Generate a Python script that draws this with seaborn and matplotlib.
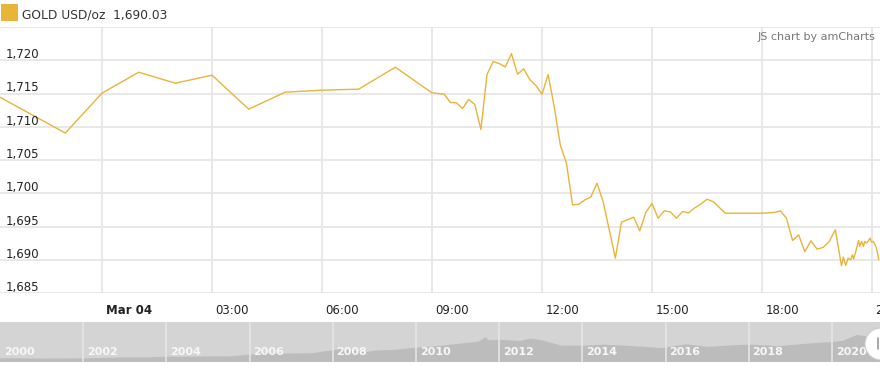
import matplotlib
matplotlib.use("Agg")
import matplotlib.pyplot as plt
import matplotlib.transforms as mtransforms
from matplotlib.patches import Rectangle, Ellipse
import seaborn as sns
import pandas as pd
import numpy as np

# ---------------- data ----------------
times = [
    "2021-03-03 21:00", "2021-03-03 23:00",
    "2021-03-04 00:00", "2021-03-04 01:00", "2021-03-04 02:00", "2021-03-04 03:00",
    "2021-03-04 04:00", "2021-03-04 05:00", "2021-03-04 06:00", "2021-03-04 07:00",
    "2021-03-04 08:00", "2021-03-04 09:00", "2021-03-04 09:20", "2021-03-04 09:30",
    "2021-03-04 09:40", "2021-03-04 09:50", "2021-03-04 10:00", "2021-03-04 10:10",
    "2021-03-04 10:20", "2021-03-04 10:30", "2021-03-04 10:40", "2021-03-04 10:50",
    "2021-03-04 11:00", "2021-03-04 11:10", "2021-03-04 11:20", "2021-03-04 11:30",
    "2021-03-04 11:40", "2021-03-04 11:50", "2021-03-04 12:00", "2021-03-04 12:10",
    "2021-03-04 12:20", "2021-03-04 12:30", "2021-03-04 12:40", "2021-03-04 12:50",
    "2021-03-04 13:00", "2021-03-04 13:10", "2021-03-04 13:20", "2021-03-04 13:30",
    "2021-03-04 13:40", "2021-03-04 14:00", "2021-03-04 14:10", "2021-03-04 14:30",
    "2021-03-04 14:40", "2021-03-04 14:50", "2021-03-04 15:00", "2021-03-04 15:10",
    "2021-03-04 15:20", "2021-03-04 15:30", "2021-03-04 15:40", "2021-03-04 15:50",
    "2021-03-04 16:00", "2021-03-04 16:10", "2021-03-04 16:20", "2021-03-04 16:30",
    "2021-03-04 16:40", "2021-03-04 17:00", "2021-03-04 18:00", "2021-03-04 18:20",
    "2021-03-04 18:30", "2021-03-04 18:40", "2021-03-04 18:50", "2021-03-04 19:00",
    "2021-03-04 19:10", "2021-03-04 19:20", "2021-03-04 19:30", "2021-03-04 19:40",
    "2021-03-04 19:50", "2021-03-04 20:00", "2021-03-04 20:10", "2021-03-04 20:13",
    "2021-03-04 20:17", "2021-03-04 20:21", "2021-03-04 20:25", "2021-03-04 20:28",
    "2021-03-04 20:30", "2021-03-04 20:33", "2021-03-04 20:38", "2021-03-04 20:40",
    "2021-03-04 20:43", "2021-03-04 20:46", "2021-03-04 20:48", "2021-03-04 20:51",
    "2021-03-04 20:54", "2021-03-04 20:57", "2021-03-04 20:59", "2021-03-04 21:02",
    "2021-03-04 21:05", "2021-03-04 21:08", "2021-03-04 21:11",
]
prices = [
    1715.10, 1709.05,
    1715.05, 1718.20, 1716.55, 1717.75,
    1712.65, 1715.20, 1715.50, 1715.65,
    1718.95, 1715.10, 1714.90, 1713.65,
    1713.60, 1712.75, 1714.10, 1713.35,
    1709.60, 1717.85, 1719.80, 1719.50,
    1719.00, 1721.00, 1717.90, 1718.70,
    1717.10, 1716.20, 1714.90, 1717.85,
    1713.00, 1707.25, 1704.50, 1698.25,
    1698.35, 1699.00, 1699.45, 1701.50,
    1698.75, 1690.25, 1695.65, 1696.40,
    1694.35, 1697.15, 1698.45, 1696.25,
    1697.35, 1697.20, 1696.25, 1697.25,
    1697.05, 1697.80, 1698.40, 1699.10,
    1698.75, 1697.00, 1697.00, 1697.10,
    1697.35, 1696.25, 1692.90, 1693.75,
    1691.20, 1692.85, 1691.60, 1691.85,
    1692.75, 1694.50, 1689.10, 1690.40,
    1689.15, 1690.25, 1690.00, 1690.75,
    1690.10, 1691.10, 1692.90, 1692.00,
    1692.75, 1692.00, 1692.75, 1692.50,
    1692.85, 1693.25, 1692.65, 1692.75,
    1692.25, 1691.50, 1690.03,
]
series_name = "GOLD USD/oz"
last_value = "1,690.03"

x_tick_hours = [0, 3, 6, 9, 12, 15, 18, 21]
x_tick_labels = ["Mar 04", "03:00", "06:00", "09:00", "12:00", "15:00", "18:00", "21:00"]
y_ticks = [1685, 1690, 1695, 1700, 1705, 1710, 1715, 1720, 1725]
y_tick_labels = ["1,685", "1,690", "1,695", "1,700", "1,705", "1,710", "1,715", "1,720", ""]

# long-history silhouette for the scrollbar (approximate gold price)
hist_years = [2000.0, 2000.5, 2001.0, 2001.5, 2002.0, 2002.5, 2003.0, 2003.5, 2004.0,
              2004.5, 2005.0, 2005.5, 2006.0, 2006.4, 2006.5, 2007.0, 2007.5, 2008.0,
              2008.2, 2008.8, 2009.0, 2009.5, 2010.0, 2010.5, 2011.0, 2011.5, 2011.67,
              2011.75, 2012.0, 2012.5, 2012.75, 2013.0, 2013.5, 2014.0, 2014.5, 2015.0,
              2015.5, 2015.9, 2016.0, 2016.5, 2017.0, 2017.5, 2018.0, 2018.5, 2018.7,
              2019.0, 2019.5, 2020.0, 2020.25, 2020.6, 2021.0, 2021.17]
hist_prices = [285, 280, 265, 270, 280, 315, 350, 350, 410,
               400, 425, 430, 550, 700, 630, 650, 670, 900,
               980, 750, 870, 930, 1100, 1200, 1380, 1550, 1890,
               1650, 1700, 1600, 1780, 1680, 1250, 1240, 1320, 1250,
               1150, 1060, 1100, 1350, 1150, 1250, 1330, 1250, 1190,
               1290, 1420, 1530, 1600, 2060, 1870, 1700]
scroll_years = [2000, 2002, 2004, 2006, 2008, 2010, 2012, 2014, 2016, 2018, 2020]

# ---------------- style ----------------
sns.set_theme(style="white")
plt.rcParams["font.family"] = ["DejaVu Sans"]

W, H = 880, 369
fig = plt.figure(figsize=(W / 100, H / 100), dpi=100)

def fx(px):
    return px / W

def fy(py):
    return 1 - py / H

GOLD = "#E8B43A"
GRID = "#e6e6e6"

df = pd.DataFrame({"time": pd.to_datetime(times), "price": prices})
origin = pd.Timestamp("2021-03-04 00:00")
df["hours"] = (df["time"] - origin).dt.total_seconds() / 3600.0

# main axes: plot area y 27..293 px, x 0..880 px
ax = fig.add_axes([0, fy(293), 1, (293 - 27) / H])
sns.lineplot(data=df, x="hours", y="price", ax=ax, color=GOLD, linewidth=1.0)
ax.set_xlim(-102 / 36.667, 778 / 36.667)
ax.set_ylim(1685, 1725)
for s in ax.spines.values():
    s.set_visible(False)
ax.set_xlabel("")
ax.set_ylabel("")

for yv in y_ticks:
    ax.axhline(yv, color=GRID, lw=1.3, zorder=0)
for xv in x_tick_hours:
    ax.axvline(xv, color=GRID, lw=1.3, zorder=0)

ax.set_yticks([])
ytrans = mtransforms.offset_copy(ax.get_yaxis_transform(), fig=fig, x=6, y=2, units="dots")
for yv, lab in zip(y_ticks, y_tick_labels):
    if lab:
        ax.text(0, yv, lab, transform=ytrans, ha="left", va="baseline",
                fontsize=8.5, color="#222222")

ax.set_xticks(x_tick_hours)
ax.set_xticklabels(x_tick_labels)
ax.tick_params(axis="x", length=0, pad=8, labelsize=8.5, labelcolor="#222222")
shift = mtransforms.ScaledTranslation(3.5 / 100, 0, fig.dpi_scale_trans)
for i, lab in enumerate(ax.get_xticklabels()):
    lab.set_horizontalalignment("left")
    lab.set_transform(lab.get_transform() + shift)
    if i == 0:
        lab.set_fontweight("bold")

# scrollbar: y 322..362 px
ax2 = fig.add_axes([0, fy(362), 1, 40 / H])
ax2.set_facecolor("#d4d4d4")
ax2.fill_between(hist_years, hist_prices, 0, color="#bcbcbc", lw=0)
ax2.set_xlim(2000, 2000 + W / 41.6)
ax2.set_ylim(0, 3050)
ax2.set_xticks([])
ax2.set_yticks([])
for s in ax2.spines.values():
    s.set_visible(False)
for yr in scroll_years:
    if yr != scroll_years[0]:
        ax2.axvline(yr, color="#e6e6e6", lw=1.2)
    ax2.text(yr + 0.09, 0.26, str(yr), transform=ax2.get_xaxis_transform(),
             ha="left", va="center", fontsize=8, fontweight="bold", color="#f7f7f7")

# scrollbar handle
fig.patches.append(Ellipse((fx(881), fy(344)), 32 / W, 32 / H, transform=fig.transFigure,
                           facecolor="white", edgecolor="#cccccc", lw=0.8, zorder=5))
fig.add_artist(plt.Line2D([fx(877.5), fx(877.5)], [fy(338), fy(349)], color="#999999",
                          lw=1.2, transform=fig.transFigure, zorder=6))

# legend
fig.patches.append(Rectangle((fx(0.5), fy(21)), 17 / W, 17 / H, transform=fig.transFigure,
                             facecolor=GOLD, edgecolor="none"))
fig.text(fx(22), fy(14.5), f"{series_name}  {last_value}", ha="left", va="center",
         fontsize=8.8, color="#333333")

# credit
fig.text(fx(875), fy(37), "JS chart by amCharts", ha="right", va="center",
         fontsize=8, color="#777777")

fig.savefig("out.png", dpi=100)
